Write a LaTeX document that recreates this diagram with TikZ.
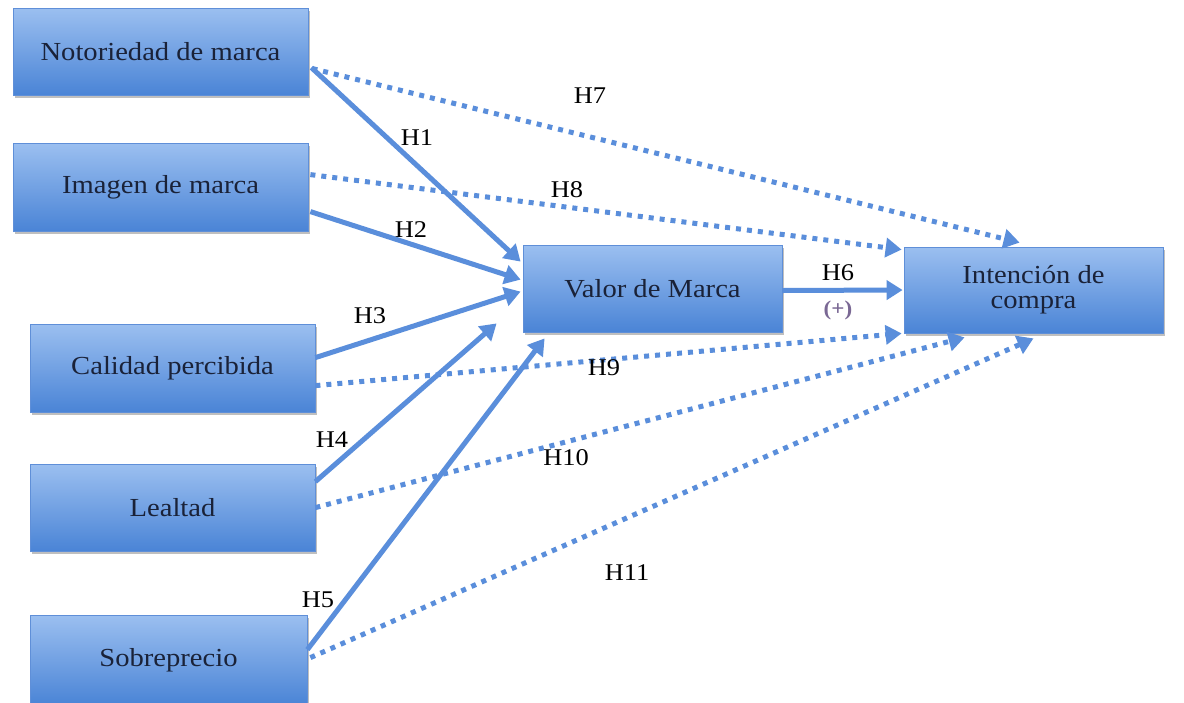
\documentclass[tikz,border=0pt]{standalone}
\usepackage{fontspec}
\setmainfont{Liberation Serif}[FakeStretch=1.1]
\usetikzlibrary{calc,shadows,arrows.meta}
\definecolor{arrowc}{HTML}{5A8EDB}
\definecolor{boxtop}{HTML}{9BBFF0}
\definecolor{boxbot}{HTML}{4A84D6}
\definecolor{boxedge}{HTML}{5F8FD8}
\definecolor{txtc}{HTML}{1A2238}
\definecolor{plusc}{HTML}{7A6894}
\tikzset{
  varbox/.style={rectangle, top color=boxtop, bottom color=boxbot, draw=boxedge, line width=0.8pt,
    text=txtc, font=\fontsize{26}{25}\selectfont, align=center,
    drop shadow={shadow xshift=2pt, shadow yshift=-3pt, fill=black!50, opacity=0.5}},
  solidarrow/.style={draw=arrowc, line width=5pt, -{Triangle[length=16pt,width=19pt]}},
  dotarrow/.style={draw=arrowc, line width=5pt, dash pattern=on 5pt off 6pt, -{Triangle[length=16pt,width=19pt]}},
  hlabel/.style={font=\fontsize{24}{27}\selectfont, text=black}
}
\begin{document}
\begin{tikzpicture}[x=1pt,y=-1pt]
\useasboundingbox (0,0) rectangle (1184,702);
\fill[white] (0,0) rectangle (1184,702);
\node[varbox, minimum width=295pt, minimum height=87pt] (n1) at (160.5,51.5) {Notoriedad de marca};
\node[varbox, minimum width=295pt, minimum height=88pt] (n2) at (160.5,187) {Imagen de marca};
\node[varbox, minimum width=285pt, minimum height=88pt] (n3) at (172.5,368) {Calidad percibida};
\node[varbox, minimum width=285pt, minimum height=87pt] (n4) at (172.5,507.5) {Lealtad};
\node[varbox, minimum width=277pt, minimum height=90pt] (n5) at (168.5,660) {Sobreprecio};
\node[varbox, minimum width=259pt, minimum height=87pt] (vm) at (652.5,288.5) {Valor de Marca};
\node[varbox, minimum width=259pt, minimum height=86pt] (ic) at (1033.5,290) {Intención de\\compra};

% dotted arrows
\draw[dotarrow] ($(n1.north east)+(4,61)$) -- ($(ic.north west)+(116,-4)$);
\draw[dotarrow] ($(n2.north east)+(2,32)$) -- ($(ic.north west)+(-2,3)$);
\draw[dotarrow] ($(n3.north east)+(0,62)$) -- ($(ic.south west)+(-2,0)$);
\draw[dotarrow] ($(n4.north east)+(0,44)$) -- ($(ic.south west)+(61,4)$);
\draw[dotarrow] ($(n5.north east)+(3,43)$) -- ($(ic.south)+(0,5)$);
% solid arrows
\draw[solidarrow] ($(n1.north east)+(3,60)$) -- ($(vm.north west)+(-2,17)$);
\draw[solidarrow] ($(n2.north east)+(2,69)$) -- ($(vm.north west)+(-2,35)$);
\draw[solidarrow] ($(n3.north east)+(0,34)$) -- ($(vm.north west)+(-2,47)$);
\draw[solidarrow] ($(n4.north east)+(0,18)$) -- ($(vm.south west)+(-26,-9)$);
\draw[solidarrow] ($(n5.north east)+(0,35)$) -- ($(vm.south west)+(22,6)$);
\draw[solidarrow] ($(vm.east)+(0,2)$) -- ($(ic.west)+(-1,0)$);

% labels
\node[hlabel] (l7) at (590,96) {H7};
\node[hlabel] (l1) at (417,138) {H1};
\node[hlabel] (l8) at (567,190) {H8};
\node[hlabel] (l2) at (411,230) {H2};
\node[hlabel] (l6) at (838,273) {H6};
\node[font=\fontsize{21}{23}\selectfont\bfseries, text=plusc] (lp) at (838,310) {(+)};
\node[hlabel] (l3) at (370,316) {H3};
\node[hlabel] (l9) at (604,368) {H9};
\node[hlabel] (l4) at (332,440) {H4};
\node[hlabel] (l10) at (566,458) {H10};
\node[hlabel] (l11) at (627,573) {H11};
\node[hlabel] (l5) at (318,600) {H5};
\end{tikzpicture}
\end{document}
